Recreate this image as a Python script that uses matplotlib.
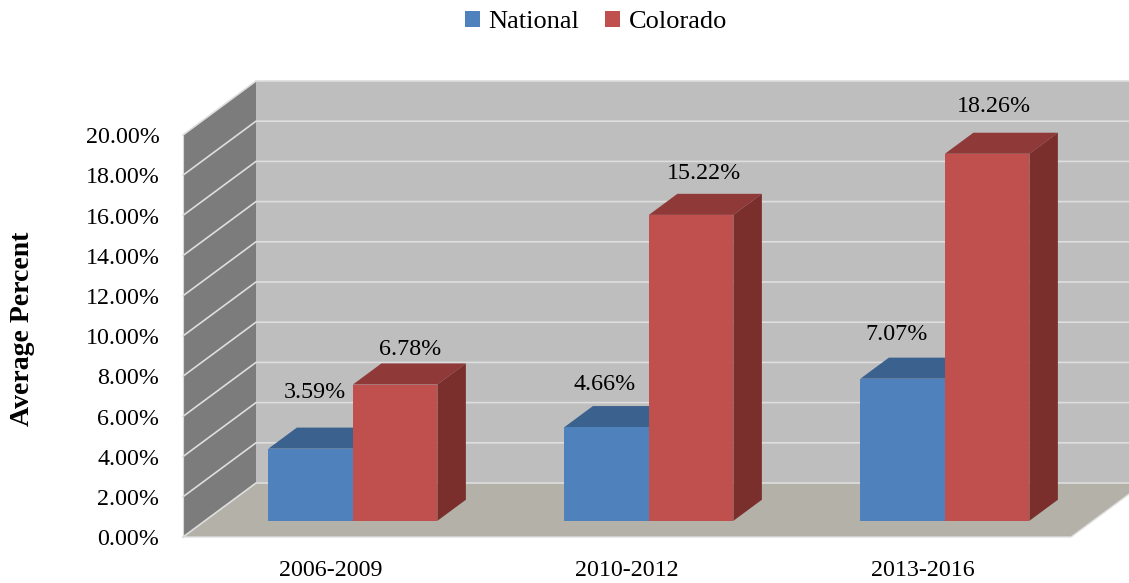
import matplotlib
matplotlib.use("Agg")
import matplotlib.pyplot as plt
from matplotlib.patches import Polygon, Patch

categories = ["2006-2009", "2010-2012", "2013-2016"]
national = [3.59, 4.66, 7.07]
colorado = [6.78, 15.22, 18.26]
y_ticks = [0, 2, 4, 6, 8, 10, 12, 14, 16, 18, 20]

W, H = 1129, 583
X_UNIT = 296.0   # px per category
Y_UNIT = 20.1    # px per percent
X0, Y0 = 331.0, 537.0   # px of category 0 / 0% on the front plane

# oblique depth of the box, in data units
DX = 73 / X_UNIT
DY = 54 / Y_UNIT
BAR_W = 84.5 / X_UNIT
BAR_D0 = 0.30   # bars start this far into the depth
BAR_D1 = 0.69

plt.rcParams["font.family"] = ["Liberation Serif", "DejaVu Serif"]
FS = 17.3


def pt(x, y, d=0.0):
    return (x + d * DX, y + d * DY)


def box(ax, x, h, front, top, side, z):
    x1 = x + BAR_W
    ax.add_patch(Polygon([pt(x, h, BAR_D0), pt(x1, h, BAR_D0), pt(x1, h, BAR_D1), pt(x, h, BAR_D1)],
                         fc=top, ec="none", zorder=z))
    ax.add_patch(Polygon([pt(x1, 0, BAR_D0), pt(x1, h, BAR_D0), pt(x1, h, BAR_D1), pt(x1, 0, BAR_D1)],
                         fc=side, ec="none", zorder=z))
    ax.add_patch(Polygon([pt(x, 0, BAR_D0), pt(x1, 0, BAR_D0), pt(x1, h, BAR_D0), pt(x, h, BAR_D0)],
                         fc=front, ec="none", zorder=z + 0.1))


fig = plt.figure(figsize=(W / 100, H / 100), dpi=100)
ax = fig.add_axes([0, 0, 1, 1])
ax.set_xlim(-X0 / X_UNIT, (W - X0) / X_UNIT)
ax.set_ylim((Y0 - H) / Y_UNIT, Y0 / Y_UNIT)
ax.axis("off")

x_l, x_r = -0.5, 2.5
y_top = y_ticks[-1]

# walls and floor
ax.add_patch(Polygon([pt(x_l, 0, 1), pt(x_r, 0, 1), pt(x_r, y_top, 1), pt(x_l, y_top, 1)],
                     fc="#BEBEBE", ec="none", zorder=1))
ax.add_patch(Polygon([pt(x_l, 0), pt(x_l, 0, 1), pt(x_l, y_top, 1), pt(x_l, y_top)],
                     fc="#7C7C7C", ec="none", zorder=1))
ax.add_patch(Polygon([pt(x_l, 0), pt(x_r, 0), pt(x_r, 0, 1), pt(x_l, 0, 1)],
                     fc="#B4B1A9", ec="none", zorder=1))

# gridlines and y tick labels
for t in y_ticks:
    a, b, c = pt(x_l, t), pt(x_l, t, 1), pt(x_r, t, 1)
    ax.plot([a[0], b[0], c[0]], [a[1], b[1], c[1]], color="#DEDEDE", lw=1.2, zorder=2,
            solid_joinstyle="miter")
    ax.annotate(f"{t:.2f}%", xy=(x_l, t), xytext=(-17, -2), textcoords="offset points",
                ha="right", va="center", fontsize=FS, color="black")
ax.plot([x_l, x_r, pt(x_r, 0, 1)[0]], [0, 0, pt(x_r, 0, 1)[1]], color="#DEDEDE", lw=1.0, zorder=2)
ax.plot([x_l, x_l], [0, y_top], color="#D9D9D9", lw=0.8, zorder=2)

# bars
for i, (n, c) in enumerate(zip(national, colorado)):
    box(ax, i - BAR_W, n, "#4F81BD", "#3B618F", "#2F4E73", 3 + i)
    box(ax, i, c, "#C0504D", "#8F3A38", "#7A2F2D", 3.5 + i)

# value labels were placed by hand in the original (px from the bar's front top corner)
nat_off = [(-38, 56), (-44, 43), (-48, 44)]
col_off = [(57, 35), (55, 41), (49, 47)]
for i, (n, c) in enumerate(zip(national, colorado)):
    for v, off in ((n, nat_off[i]), (c, col_off[i])):
        ax.annotate(f"{v:.2f}%", xy=pt(i, v, BAR_D0), xytext=(off[0] * 0.72, off[1] * 0.72),
                    textcoords="offset points", ha="center", va="center",
                    fontsize=FS, color="black", zorder=10)

# category labels
for i, cat in enumerate(categories):
    ax.annotate(cat, xy=(i, 0), xytext=(0, -24), textcoords="offset points",
                ha="center", va="center", fontsize=FS, color="black")

fig.text(23 / W, 1 - 329 / H, "Average Percent", rotation=90, ha="center", va="center",
         fontsize=20, fontweight="bold", color="black")

handles = [Patch(fc="#4F81BD", label="National"), Patch(fc="#C0504D", label="Colorado")]
fig.legend(handles=handles, loc="upper center", bbox_to_anchor=(596 / W, 1 + 13 / H), ncol=2,
           frameon=False, fontsize=19, handlelength=0.57, handleheight=0.57,
           handletextpad=0.3, columnspacing=1.0)

fig.savefig("out.png", dpi=100)
